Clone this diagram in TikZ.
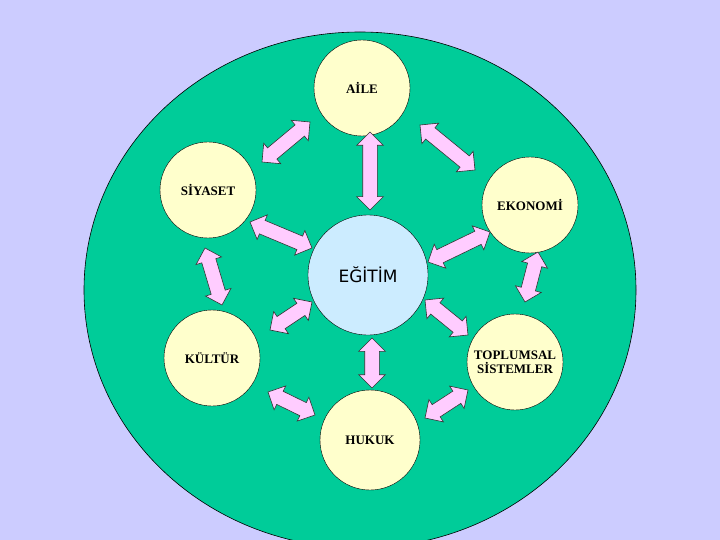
\documentclass[tikz,border=0pt]{standalone}
\usepackage{fontspec}
\setmainfont{Liberation Serif}
\newfontfamily\egfont{DejaVu Sans}
\usetikzlibrary{shapes.arrows,calc}
\definecolor{bg}{HTML}{CCCCFF}
\definecolor{grn}{HTML}{00CC99}
\definecolor{cre}{HTML}{FFFFCC}
\definecolor{lbl}{HTML}{CCECFF}
\definecolor{pnk}{HTML}{FFCCFF}
\begin{document}
\begin{tikzpicture}[x=1pt,y=-1pt,
  circ/.style={circle,draw=black,fill=cre,minimum size=96pt,inner sep=0pt,font=\bfseries\fontsize{13}{14}\selectfont,align=center},
  dbl/.style={double arrow,draw=black!80,fill=pnk,minimum width=26pt,double arrow head extend=6pt,inner xsep=0pt,inner ysep=7pt,line width=0.6pt}]
\fill[bg] (0,0) rectangle (720,540);
\useasboundingbox (0,0) rectangle (720,540);
\fill[grn,draw=black,line width=0.6pt] (360,290) ellipse [x radius=276, y radius=258];
\node[circ] (aile) at (362,88) {AİLE};
\node[circ] (siy) at (208,190) {SİYASET};
\node[circ] (eko) at (530,205) {EKONOMİ};
\node[circ] (kul) at (212,358) {KÜLTÜR};
\node[circ] (top) at (515,362) {TOPLUMSAL\\SİSTEMLER};
\node[circ,minimum size=100pt] (huk) at (370,440) {HUKUK};
\node[circle,draw=black,fill=lbl,minimum size=120pt,inner sep=0pt,font=\egfont\fontsize{17}{19}\selectfont] (egi) at (368,275) {EĞİTİM};
\foreach \k/\ax/\ay/\bx/\by in {
 a1/262/162/310/122, a2/420/125/475/170, a3/370/132/370/210,
 a4/250/222/312/248, a5/428/262/490/232, a6/205/248/222/305,
 a7/538/252/525/302, a8/270/330/312/302, a9/425/300/468/335,
 a10/372/338/372/388, a11/268/392/315/415, a12/425/418/468/390}{
 \coordinate (\k s) at (\ax,\ay);
 \coordinate (\k e) at (\bx,\by);
 \path let \p1=($(\k e)-(\k s)$) in
   node[dbl,minimum height={veclen(\x1,\y1)},rotate={atan2(\y1,\x1)}] (\k) at ($(\k s)!0.5!(\k e)$) {};
}
\end{tikzpicture}
\end{document}
